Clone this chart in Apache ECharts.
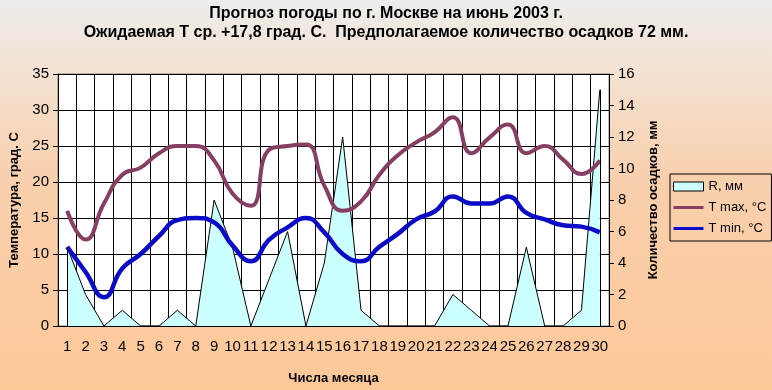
<!DOCTYPE html>
<html>
<head>
<meta charset="utf-8">
<script src="https://cdn.jsdelivr.net/npm/echarts@6/dist/echarts.min.js"></script>
<style>html,body{margin:0;padding:0;}#c{width:772px;height:390px;}</style>
</head>
<body>
<div id="c"></div>
<script>
var days = ['1','2','3','4','5','6','7','8','9','10','11','12','13','14','15','16','17','18','19','20','21','22','23','24','25','26','27','28','29','30'];
var tMax = [16, 12, 17, 21, 22, 24, 25, 25, 23, 18.4, 16.7, 24.5, 25, 25.2, 19.5, 16, 17.3, 21, 23.7, 25.5, 26.9, 29, 24, 26.2, 28, 24, 25, 23.1, 21.1, 23];
var tMin = [11, 7.5, 4, 8, 10, 12.5, 14.7, 15, 14.4, 11.2, 9, 12, 13.7, 15, 13, 10, 9, 11, 12.8, 14.8, 15.9, 18, 17, 17, 18, 15.7, 14.8, 14, 13.8, 13];
var rain = [5, 2, 0, 1, 0, 0, 1, 0, 8, 5, 0, 3, 6, 0, 4, 12, 1, 0, 0, 0, 0, 2, 1, 0, 0, 5, 0, 0, 1, 15];
var tempTicks = {min: 0, max: 35, interval: 5};
var rainTicks = {min: 0, max: 16, interval: 2};

var FONT = 'Liberation Sans, Arial, sans-serif';
var cMax = '#873E63', cMin = '#0C0CC8', cRain = '#CCFFFF';

var chart = echarts.init(document.getElementById('c'));
chart.setOption({
  backgroundColor: new echarts.graphic.LinearGradient(0, 0, 0, 1, [
    {offset: 0, color: '#eeedeb'},
    {offset: 0.15, color: '#f3e4d7'},
    {offset: 0.45, color: '#f9d0ae'},
    {offset: 1, color: '#fdc898'}
  ]),
  textStyle: {fontFamily: FONT, color: '#000'},
  animation: false,
  title: {
    text: 'Прогноз погоды по г. Москве на июнь 2003 г.\nОжидаемая Т ср. +17,8 град. С.  Предполагаемое количество осадков 72 мм.',
    left: 'center', top: -1,
    textStyle: {fontFamily: FONT, fontSize: 16, fontWeight: 'bold', color: '#000', lineHeight: 19}
  },
  legend: {
    orient: 'vertical', left: 670, top: 174,
    padding: [6, 5, 6, 3], itemWidth: 30, itemHeight: 9, itemGap: 8,
    borderColor: '#000', borderWidth: 1,
    textStyle: {fontFamily: FONT, fontSize: 13, color: '#000'},
    data: [
      {name: 'R, мм', icon: 'rect', itemStyle: {color: cRain, borderColor: '#000', borderWidth: 1}},
      {name: 'T max, °C', icon: 'path://M0 0H30V3H0Z', itemStyle: {color: cMax, borderWidth: 0}},
      {name: 'T min, °C', icon: 'path://M0 0H30V3H0Z', itemStyle: {color: cMin, borderWidth: 0}}
    ]
  },
  grid: {left: 47, right: 163, top: 74, bottom: 55, show: true, backgroundColor: '#fff', borderColor: '#808080', borderWidth: 1},
  xAxis: {
    type: 'category', data: days, boundaryGap: true,
    name: 'Числа месяца', nameLocation: 'middle', nameGap: 46,
    nameTextStyle: {fontFamily: FONT, fontSize: 13, fontWeight: 'bold', color: '#000'},
    axisLine: {lineStyle: {color: '#000', width: 1}},
    axisTick: {length: 5, interval: 0, lineStyle: {color: '#000'}},
    axisLabel: {interval: 0, fontSize: 15, color: '#000', margin: 13, fontFamily: FONT},
    splitLine: {show: true, interval: 0, lineStyle: {color: '#000', width: 1}}
  },
  yAxis: [{
    type: 'value', min: tempTicks.min, max: tempTicks.max, interval: tempTicks.interval,
    name: 'Температура, град. С', nameLocation: 'middle', nameGap: 37, nameRotate: 90,
    nameTextStyle: {fontFamily: FONT, fontSize: 13, fontWeight: 'bold', color: '#000'},
    axisLine: {show: true, lineStyle: {color: '#000', width: 1}},
    axisTick: {show: true, length: 5, lineStyle: {color: '#000'}},
    axisLabel: {fontSize: 15, color: '#000', margin: 9, fontFamily: FONT},
    splitLine: {show: true, lineStyle: {color: '#000', width: 1}}
  }, {
    type: 'value', position: 'right', min: rainTicks.min, max: rainTicks.max, interval: rainTicks.interval,
    name: 'Количество осадков, мм', nameLocation: 'middle', nameGap: 38, nameRotate: 90,
    nameTextStyle: {fontFamily: FONT, fontSize: 13, fontWeight: 'bold', color: '#000'},
    axisLine: {show: true, lineStyle: {color: '#000', width: 1}},
    axisTick: {show: true, length: 5, lineStyle: {color: '#000'}},
    axisLabel: {fontSize: 15, color: '#000', margin: 9, fontFamily: FONT},
    splitLine: {show: false}
  }],
  series: [{
    name: 'R, мм', type: 'line', yAxisIndex: 1, data: rain,
    symbol: 'none', smooth: false,
    lineStyle: {color: '#000', width: 1},
    itemStyle: {color: cRain},
    areaStyle: {color: cRain, opacity: 1},
    z: 1,
    markLine: {
      silent: true, symbol: 'none', label: {show: false},
      lineStyle: {color: '#000', width: 1, type: 'solid'},
      data: [
        [{coord: [days[0], 0]}, {coord: [days[0], rain[0]]}],
        [{coord: [days[days.length - 1], 0]}, {coord: [days[days.length - 1], rain[rain.length - 1]]}]
      ]
    }
  }, {
    name: 'T max, °C', type: 'line', yAxisIndex: 0, data: tMax,
    symbol: 'none', smooth: 0.5,
    lineStyle: {color: cMax, width: 4},
    itemStyle: {color: cMax}, z: 3
  }, {
    name: 'T min, °C', type: 'line', yAxisIndex: 0, data: tMin,
    symbol: 'none', smooth: 0.5,
    lineStyle: {color: cMin, width: 4.5},
    itemStyle: {color: cMin}, z: 4
  }]
});
</script>
</body>
</html>
